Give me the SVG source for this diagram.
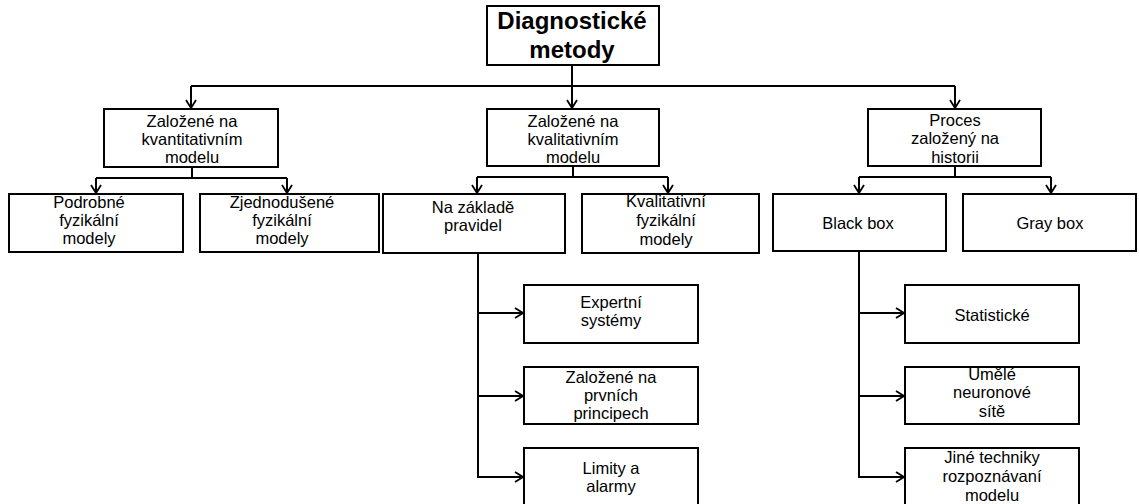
<svg xmlns="http://www.w3.org/2000/svg" width="1139" height="504" viewBox="0 0 1139 504">
<style>
.box{fill:#fff;stroke:#000;stroke-width:2}
.t{font-family:"Liberation Sans",Arial,sans-serif;font-size:16.5px;fill:#000;text-anchor:middle}
.root{font-family:"Liberation Sans",Arial,sans-serif;font-size:24px;font-weight:bold;fill:#000;text-anchor:middle}
.c{fill:none;stroke:#000;stroke-width:2}
</style>
<defs>
<marker id="a" viewBox="0 0 12 12" refX="11" refY="6" markerWidth="12" markerHeight="12" markerUnits="userSpaceOnUse" orient="auto">
<path d="M3,1 L11,6 L3,11" fill="none" stroke="#000" stroke-width="1.8"/>
</marker>
</defs>
<rect width="1139" height="504" fill="#fff"/>
<g id="connectors">
<path class="c" d="M572,65 V86 M191,86 H955"/>
<path class="c" d="M191,86 V108" marker-end="url(#a)"/>
<path class="c" d="M572,86 V108" marker-end="url(#a)"/>
<path class="c" d="M955,86 V108" marker-end="url(#a)"/>
<path class="c" d="M192,167 V178 M96,178 H287"/>
<path class="c" d="M96,178 V193" marker-end="url(#a)"/>
<path class="c" d="M287,178 V193" marker-end="url(#a)"/>
<path class="c" d="M573,166 V177 M477,177 H668"/>
<path class="c" d="M477,177 V193" marker-end="url(#a)"/>
<path class="c" d="M668,177 V193" marker-end="url(#a)"/>
<path class="c" d="M955,166 V177 M859,177 H1051"/>
<path class="c" d="M859,177 V193" marker-end="url(#a)"/>
<path class="c" d="M1051,177 V193" marker-end="url(#a)"/>
<path class="c" d="M478,253 V477"/>
<path class="c" d="M477,313 H523" marker-end="url(#a)"/>
<path class="c" d="M477,396 H523" marker-end="url(#a)"/>
<path class="c" d="M477,477 H523" marker-end="url(#a)"/>
<path class="c" d="M859,251 V477"/>
<path class="c" d="M858,313 H904" marker-end="url(#a)"/>
<path class="c" d="M858,396 H904" marker-end="url(#a)"/>
<path class="c" d="M858,477 H904" marker-end="url(#a)"/>
</g>
<g id="root">
<rect class="box" x="487" y="6" width="172" height="59"/>
<text class="root" x="572" y="29">Diagnostické</text>
<text class="root" x="572" y="58">metody</text>
</g>
<g id="kvantitativni">
<rect class="box" x="104" y="109" width="174" height="58"/>
<text class="t" x="192" y="127">Založené na</text>
<text class="t" x="192" y="145">kvantitativním</text>
<text class="t" x="192" y="163">modelu</text>
</g>
<g id="kvalitativni">
<rect class="box" x="487" y="109" width="172" height="57"/>
<text class="t" x="573" y="127">Založené na</text>
<text class="t" x="573" y="145">kvalitativním</text>
<text class="t" x="573" y="163">modelu</text>
</g>
<g id="historie">
<rect class="box" x="868" y="109" width="173" height="57"/>
<text class="t" x="955" y="126">Proces</text>
<text class="t" x="955" y="144">založený na</text>
<text class="t" x="955" y="163">historii</text>
</g>
<g id="podrobne">
<rect class="box" x="9" y="194" width="174" height="58"/>
<text class="t" x="89" y="208">Podrobné</text>
<text class="t" x="89" y="226">fyzikální</text>
<text class="t" x="89" y="244">modely</text>
</g>
<g id="zjednodusene">
<rect class="box" x="200" y="194" width="179" height="58"/>
<text class="t" x="282" y="208">Zjednodušené</text>
<text class="t" x="282" y="226">fyzikální</text>
<text class="t" x="282" y="244">modely</text>
</g>
<g id="pravidla">
<rect class="box" x="383" y="194" width="182" height="59"/>
<text class="t" x="473" y="213">Na základě</text>
<text class="t" x="473" y="231">pravidel</text>
</g>
<g id="kvalitativni-fyz">
<rect class="box" x="582" y="194" width="177" height="59"/>
<text class="t" x="666" y="207">Kvalitativní</text>
<text class="t" x="666" y="226">fyzikální</text>
<text class="t" x="666" y="245">modely</text>
</g>
<g id="blackbox">
<rect class="box" x="773" y="194" width="173" height="57"/>
<text class="t" x="858" y="229">Black box</text>
</g>
<g id="graybox">
<rect class="box" x="963" y="194" width="173" height="57"/>
<text class="t" x="1050" y="229">Gray box</text>
</g>
<g id="expertni">
<rect class="box" x="524" y="285" width="174" height="58"/>
<text class="t" x="611" y="308">Expertní</text>
<text class="t" x="611" y="326">systémy</text>
</g>
<g id="prvni-principy">
<rect class="box" x="524" y="367" width="174" height="57"/>
<text class="t" x="611" y="383">Založené na</text>
<text class="t" x="611" y="401">prvních</text>
<text class="t" x="611" y="419">principech</text>
</g>
<g id="limity">
<rect class="box" x="524" y="448" width="174" height="58"/>
<text class="t" x="611" y="474">Limity a</text>
<text class="t" x="611" y="492">alarmy</text>
</g>
<g id="statisticke">
<rect class="box" x="905" y="285" width="174" height="58"/>
<text class="t" x="992" y="321">Statistické</text>
</g>
<g id="neuronove">
<rect class="box" x="905" y="367" width="174" height="57"/>
<text class="t" x="992" y="380">Umělé</text>
<text class="t" x="992" y="398">neuronové</text>
<text class="t" x="992" y="417">sítě</text>
</g>
<g id="jine">
<rect class="box" x="905" y="448" width="174" height="58"/>
<text class="t" x="992" y="463">Jiné techniky</text>
<text class="t" x="992" y="482">rozpoznávaní</text>
<text class="t" x="992" y="501">modelu</text>
</g>
</svg>
